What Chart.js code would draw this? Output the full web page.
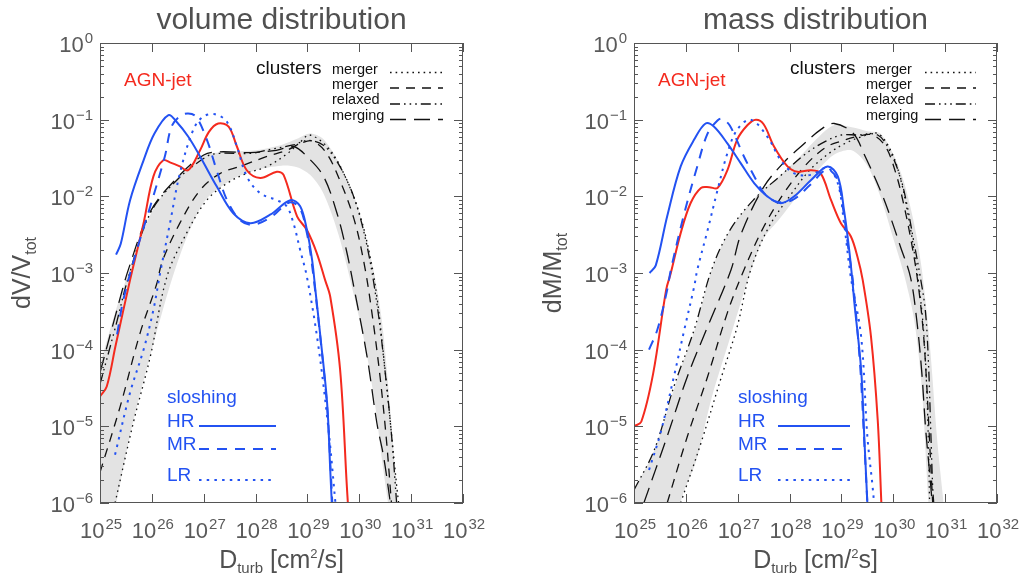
<!DOCTYPE html>
<html>
<head>
<meta charset="utf-8">
<script src="https://cdn.jsdelivr.net/npm/chart.js@4.4.0/dist/chart.umd.min.js"></script>
<style>
  html, body { margin: 0; padding: 0; background: #fff; }
  #wrap { position: relative; width: 1026px; height: 579px; }
  .panel { position: absolute; top: 0; width: 513px; height: 579px; }
</style>
</head>
<body>
<div id="wrap">
  <div class="panel" style="left:0"><canvas id="cVol" width="513" height="579"></canvas></div>
  <div class="panel" style="left:513px"><canvas id="cMass" width="513" height="579"></canvas></div>
</div>
<script>
// all curves: [log10 D_turb, log10 fraction]
const xTickExp = [25, 26, 27, 28, 29, 30, 31, 32];
const yTickExp = [-6, -5, -4, -3, -2, -1, 0];

// ── volume distribution ──────────────────────────────────────────────
const volHR = [[25.31,-2.76],[25.4,-2.62],[25.58,-2.05],[25.84,-1.53],[26.05,-1.18],[26.32,-0.94],[26.48,-1.03],[26.7,-1.22],[26.93,-1.48],[27.25,-1.87],[27.57,-2.22],[27.9,-2.35],[28.28,-2.24],[28.67,-2.05],[28.86,-2.13],[28.99,-2.44],[29.09,-2.83],[29.15,-3.2],[29.25,-3.83],[29.38,-4.7],[29.44,-5.57],[29.47,-6.0]];
const volMR = [[25.33,-3.8],[25.45,-3.35],[25.71,-2.7],[25.97,-2.13],[26.25,-1.48],[26.38,-1.09],[26.55,-0.95],[26.7,-0.92],[26.85,-0.96],[27.06,-1.26],[27.25,-1.66],[27.45,-2.05],[27.7,-2.31],[27.95,-2.37],[28.3,-2.27],[28.65,-2.08],[28.85,-2.15],[28.98,-2.45],[29.08,-2.85],[29.25,-3.85],[29.38,-4.75],[29.45,-5.6],[29.48,-6.0]];
const volLR = [[25.29,-5.37],[25.58,-4.56],[25.84,-4.0],[26.03,-3.48],[26.16,-3.0],[26.35,-2.35],[26.54,-1.7],[26.8,-1.13],[26.99,-0.96],[27.22,-0.93],[27.45,-1.03],[27.64,-1.35],[27.83,-1.74],[28.09,-1.96],[28.41,-2.05],[28.6,-2.13],[28.73,-2.35],[28.86,-2.7],[28.99,-3.05],[29.2,-3.9],[29.4,-5.0],[29.54,-6.0]];
const volAGN = [[25.0,-4.61],[25.13,-4.48],[25.3,-3.95],[25.58,-3.09],[25.84,-2.35],[26.03,-1.74],[26.22,-1.53],[26.36,-1.56],[26.54,-1.61],[26.7,-1.66],[26.93,-1.4],[27.1,-1.16],[27.28,-1.05],[27.48,-1.09],[27.64,-1.35],[27.83,-1.66],[28.09,-1.76],[28.41,-1.68],[28.54,-1.72],[28.8,-2.26],[28.99,-2.44],[29.18,-2.74],[29.34,-3.09],[29.44,-3.31],[29.63,-4.26],[29.76,-5.78],[29.78,-6.0]];
const volMergerDot = [[25.29,-6.0],[25.64,-4.96],[25.97,-4.09],[26.29,-3.05],[26.67,-2.48],[27.06,-2.05],[27.45,-1.83],[27.83,-1.7],[28.22,-1.61],[28.6,-1.45],[28.85,-1.3],[29.05,-1.2],[29.44,-1.4],[29.76,-1.79],[30.02,-2.26],[30.21,-2.79],[30.34,-3.31],[30.47,-4.09],[30.6,-4.96],[30.73,-5.83],[30.76,-6.0]];
const volMergerDash = [[25.0,-5.6],[25.39,-4.74],[25.77,-3.79],[26.09,-3.15],[26.2,-2.85],[26.54,-2.35],[26.93,-1.92],[27.32,-1.7],[27.7,-1.61],[28.22,-1.48],[28.6,-1.4],[28.9,-1.3],[29.1,-1.28],[29.35,-1.42],[29.6,-1.75],[29.9,-2.3],[30.1,-2.9],[30.25,-3.55],[30.4,-4.35],[30.52,-5.15],[30.62,-6.0]];
const volRelaxed = [[25.0,-4.45],[25.3,-3.7],[25.55,-3.05],[25.97,-2.22],[26.48,-1.79],[27.06,-1.48],[27.3,-1.44],[27.9,-1.44],[28.34,-1.38],[28.73,-1.33],[29.0,-1.27],[29.3,-1.33],[29.6,-1.58],[29.9,-2.02],[30.15,-2.65],[30.35,-3.45],[30.5,-4.3],[30.62,-5.1],[30.72,-6.0]];
const volMerging = [[25.0,-4.3],[25.3,-3.55],[25.55,-2.95],[25.97,-2.2],[26.5,-1.75],[27.0,-1.46],[27.3,-1.42],[27.9,-1.43],[28.4,-1.4],[28.73,-1.35],[28.99,-1.48],[29.31,-1.74],[29.57,-2.22],[29.75,-2.7],[29.9,-3.2],[30.15,-4.09],[30.34,-4.96],[30.47,-5.4],[30.6,-6.0]];
const volBandD  = [25.0, 25.3, 25.6, 26.0, 26.5, 27.0, 27.5, 28.0, 28.5, 28.8, 29.05, 29.3, 29.6, 29.9, 30.1, 30.3, 30.45, 30.6, 30.8];
const volBandHi = [-4.2, -3.5, -2.9, -2.2, -1.75, -1.47, -1.42, -1.4, -1.33, -1.25, -1.18, -1.25, -1.55, -2.0, -2.45, -3.05, -3.7, -4.8, -6.5];
const volBandLo = [-7, -6.05, -5.05, -4.0, -2.85, -2.08, -1.8, -1.66, -1.6, -1.62, -1.72, -1.95, -2.5, -3.3, -3.9, -4.7, -5.5, -6.2, -7];

// ── mass distribution ────────────────────────────────────────────────
const massHR = [[25.3,-3.0],[25.42,-2.9],[25.64,-2.26],[25.9,-1.61],[26.16,-1.26],[26.38,-1.05],[26.54,-1.09],[26.8,-1.31],[27.06,-1.57],[27.32,-1.83],[27.57,-2.0],[27.83,-2.09],[28.09,-2.0],[28.41,-1.79],[28.73,-1.61],[28.93,-1.74],[29.05,-2.18],[29.15,-2.7],[29.21,-3.09],[29.25,-3.39],[29.38,-4.26],[29.44,-5.13],[29.5,-6.0]];
const massMR = [[25.29,-4.0],[25.45,-3.74],[25.64,-3.22],[25.71,-2.96],[25.97,-2.22],[26.22,-1.61],[26.42,-1.18],[26.61,-1.01],[26.7,-0.99],[26.85,-1.08],[27.12,-1.48],[27.32,-1.74],[27.51,-1.96],[27.75,-2.07],[28.05,-2.05],[28.4,-1.85],[28.72,-1.65],[28.92,-1.78],[29.04,-2.2],[29.14,-2.72],[29.22,-3.1],[29.36,-4.2],[29.44,-5.2],[29.5,-6.0]];
const massLR = [[25.29,-5.57],[25.51,-5.09],[25.77,-4.35],[25.97,-3.74],[26.16,-3.18],[26.22,-2.96],[26.42,-2.44],[26.61,-1.92],[26.8,-1.44],[26.99,-1.13],[27.25,-1.0],[27.57,-1.22],[27.83,-1.53],[28.09,-1.7],[28.41,-1.72],[28.73,-1.63],[28.93,-1.83],[29.05,-2.35],[29.18,-3.05],[29.38,-3.83],[29.5,-5.13],[29.6,-5.78],[29.63,-6.0]];
const massAGN = [[25.0,-5.0],[25.14,-4.94],[25.37,-4.31],[25.62,-3.22],[25.71,-3.0],[25.9,-2.48],[26.09,-2.09],[26.29,-1.89],[26.45,-1.88],[26.61,-1.89],[26.8,-1.66],[26.99,-1.26],[27.19,-1.07],[27.35,-1.0],[27.5,-1.06],[27.7,-1.35],[27.96,-1.61],[28.15,-1.68],[28.41,-1.66],[28.6,-1.7],[28.8,-2.05],[28.99,-2.35],[29.18,-2.52],[29.31,-2.79],[29.41,-3.09],[29.57,-3.83],[29.7,-4.92],[29.77,-6.0]];
const massRelaxed = [[25.0,-5.83],[25.39,-5.31],[25.77,-4.48],[26.16,-3.74],[26.5,-2.95],[26.85,-2.44],[27.3,-2.05],[27.81,-1.74],[28.32,-1.44],[28.7,-1.28],[29.0,-1.2],[29.3,-1.2],[29.7,-1.2],[29.94,-1.42],[30.14,-1.76],[30.27,-2.13],[30.39,-2.57],[30.52,-3.05],[30.62,-3.5],[30.68,-4.2],[30.72,-5.0],[30.76,-5.8],[30.78,-6.0]];
const massMerging = [[25.19,-6.0],[25.64,-5.13],[26.03,-4.35],[26.42,-3.7],[26.87,-2.96],[27.06,-2.5],[27.5,-1.88],[27.9,-1.55],[28.22,-1.35],[28.6,-1.13],[28.86,-1.05],[29.23,-1.18],[29.43,-1.44],[29.75,-1.92],[29.94,-2.26],[30.14,-2.66],[30.33,-3.05],[30.45,-3.6],[30.55,-4.3],[30.62,-5.0],[30.7,-5.6],[30.75,-6.0]];
const massMergerDash = [[25.64,-6.0],[26.03,-5.13],[26.42,-4.35],[26.8,-3.52],[27.12,-2.96],[27.5,-2.4],[27.9,-1.95],[28.3,-1.6],[28.7,-1.36],[29.0,-1.28],[29.3,-1.22],[29.6,-1.2],[29.85,-1.35],[30.05,-1.7],[30.2,-2.1],[30.35,-2.6],[30.47,-3.1],[30.57,-3.7],[30.64,-4.4],[30.7,-5.2],[30.76,-6.0]];
const massMergerDot = [[25.9,-6.0],[26.29,-5.22],[26.67,-4.39],[26.99,-3.7],[27.25,-2.96],[27.6,-2.4],[28.0,-2.0],[28.4,-1.65],[28.8,-1.42],[29.1,-1.3],[29.4,-1.22],[29.7,-1.18],[29.95,-1.4],[30.15,-1.8],[30.3,-2.3],[30.42,-2.8],[30.52,-3.3],[30.6,-3.9],[30.65,-4.6],[30.68,-5.3],[30.7,-6.0]];
const massBandD  = [25.0, 25.4, 25.8, 25.9, 26.2, 26.5, 26.85, 27.25, 27.5, 27.8, 28.2, 28.6, 28.87, 29.2, 29.5, 29.75, 30.0, 30.2, 30.4, 30.55, 30.7, 30.85, 30.97];
const massBandHi = [-5.83, -5.3, -4.45, -4.25, -3.68, -2.95, -2.44, -2.08, -1.9, -1.74, -1.48, -1.2, -1.07, -1.1, -1.15, -1.18, -1.45, -1.8, -2.35, -2.95, -3.9, -5.2, -6.0];
const massBandLo = [-7, -7, -7, -6.0, -5.45, -4.62, -3.85, -2.98, -2.55, -2.3, -1.95, -1.62, -1.45, -1.4, -1.6, -2.0, -2.55, -3.0, -3.6, -4.5, -6.2, -7, -7];

const clusterNames = ["merger", "merger", "relaxed", "merging"];
const sloshNames = ["HR", "MR", "LR"];

// ── styles ───────────────────────────────────────────────────────────
const BLUE = "#2352f2", RED = "#f42a1e", INK = "#111", BAND = "#e3e3e3", AXIS = "#555";
const FONT = '"Liberation Sans", Arial, sans-serif';
const DASH = {
  solid: [], mr: [10, 8], lr: [2.5, 5.2],
  dot: [1.6, 4], dash: [9, 7], relaxed: [10, 4, 1.6, 4, 1.6, 4, 1.6, 4], long: [16, 8]
};
const clusterDash = [DASH.dot, DASH.dash, DASH.relaxed, DASH.long];
const sloshDash = [DASH.solid, DASH.mr, DASH.lr];

const pts = a => a.map(([lx, ly]) => ({ x: 10 ** lx, y: 10 ** ly }));
const bandPts = (d, v) => d.map((lx, i) => ({ x: 10 ** lx, y: 10 ** v[i] }));

function curve(data, color, width, dash) {
  return { data: pts(data), borderColor: color, borderWidth: width, borderDash: dash,
           pointRadius: 0, tension: 0.35, fill: false };
}

function datasets(s) {
  return [
    curve(s.hr, BLUE, 2, DASH.solid),
    curve(s.mr, BLUE, 2, DASH.mr),
    curve(s.lr, BLUE, 2, DASH.lr),
    curve(s.agn, RED, 2, DASH.solid),
    curve(s.dot, INK, 1.3, DASH.dot),
    curve(s.dash, INK, 1.3, DASH.dash),
    curve(s.relaxed, INK, 1.3, DASH.relaxed),
    curve(s.merging, INK, 1.3, DASH.long),
    { data: bandPts(s.bandD, s.bandHi), borderColor: "rgba(0,0,0,0)", borderWidth: 1,
      backgroundColor: BAND, fill: "+1", pointRadius: 0, tension: 0.3 },
    { data: bandPts(s.bandD, s.bandLo), borderColor: "rgba(0,0,0,0)", borderWidth: 1,
      fill: false, pointRadius: 0, tension: 0.3 }
  ];
}

const supExp = n => String(n).replace("-", "\u2212");

function supLabel(ctx, exp, x, yBase, align) {
  ctx.font = "22px " + FONT; const wb = ctx.measureText("10").width;
  ctx.font = "15px " + FONT; const we = ctx.measureText(exp).width;
  const w = wb + 1 + we;
  const x0 = align === "right" ? x - w : x - w / 2;
  ctx.textAlign = "left"; ctx.textBaseline = "alphabetic";
  ctx.font = "22px " + FONT; ctx.fillText("10", x0, yBase);
  ctx.font = "15px " + FONT; ctx.fillText(exp, x0 + wb + 1, yBase - 9);
}

// pieces: [text, size, dy]
function drawPieces(ctx, pieces, cx, base) {
  let w = 0;
  pieces.forEach(([t, s]) => { ctx.font = s + "px " + FONT; w += ctx.measureText(t).width; });
  let x = cx - w / 2;
  ctx.textAlign = "left"; ctx.textBaseline = "alphabetic";
  pieces.forEach(([t, s, dy]) => { ctx.font = s + "px " + FONT; ctx.fillText(t, x, base + (dy || 0)); x += ctx.measureText(t).width; });
}

function sample(ctx, x0, x1, y, color, width, dash) {
  ctx.save();
  ctx.strokeStyle = color; ctx.lineWidth = width; ctx.setLineDash(dash);
  ctx.beginPath(); ctx.moveTo(x0, y); ctx.lineTo(x1, y); ctx.stroke();
  ctx.restore();
}

const decor = {
  id: "decor",
  afterDraw(chart, args, o) {
    const { ctx, chartArea: a, scales: { x, y } } = chart;
    ctx.save();
    ctx.strokeStyle = AXIS; ctx.lineWidth = 1;
    ctx.strokeRect(a.left + 0.5, a.top + 0.5, a.right - a.left - 1, a.bottom - a.top - 1);
    ctx.beginPath();
    xTickExp.forEach(n => {
      const px = Math.round(x.getPixelForValue(10 ** n)) + 0.5;
      ctx.moveTo(px, a.bottom); ctx.lineTo(px, a.bottom - 9);
      ctx.moveTo(px, a.top); ctx.lineTo(px, a.top + 9);
    });
    yTickExp.forEach(n => {
      const py = Math.round(y.getPixelForValue(10 ** n)) + 0.5;
      ctx.moveTo(a.left, py); ctx.lineTo(a.left + 9, py);
      ctx.moveTo(a.right, py); ctx.lineTo(a.right - 9, py);
      if (n < 0) for (let k = 2; k <= 9; k++) {
        const pm = Math.round(y.getPixelForValue(k * 10 ** n)) + 0.5;
        ctx.moveTo(a.left, pm); ctx.lineTo(a.left + 4, pm);
        ctx.moveTo(a.right, pm); ctx.lineTo(a.right - 4, pm);
      }
    });
    ctx.stroke();

    ctx.fillStyle = "#5a5a5a";
    xTickExp.forEach(n => supLabel(ctx, supExp(n), x.getPixelForValue(10 ** n) + 1, a.bottom + 35, "center"));
    yTickExp.forEach(n => supLabel(ctx, supExp(n), a.left - 7, y.getPixelForValue(10 ** n) + 9, "right"));

    const cx = (a.left + a.right) / 2;
    ctx.fillStyle = "#505050";
    drawPieces(ctx, [[o.title, 30]], cx, 29);
    drawPieces(ctx, o.xTitle, cx, 568);
    ctx.save();
    ctx.translate(o.yTitleX, 273); ctx.rotate(-Math.PI / 2);
    drawPieces(ctx, o.yTitle, 0, 0);
    ctx.restore();

    // legends
    const L = o.leg;
    ctx.textAlign = "left"; ctx.textBaseline = "alphabetic";
    ctx.fillStyle = RED; ctx.font = "19px " + FONT; ctx.fillText("AGN-jet", L.agnX, 86);
    ctx.fillStyle = INK; ctx.font = "19px " + FONT; ctx.fillText("clusters", L.clX, 74);
    ctx.font = "14.5px " + FONT;
    const cy = [74, 89, 104, 120], sy = [72.5, 88, 104, 119.5];
    clusterNames.forEach((t, i) => {
      ctx.fillStyle = INK; ctx.fillText(t, L.mX, cy[i]);
      sample(ctx, L.sX0, L.sX1, sy[i], INK, 1.5, clusterDash[i]);
    });
    ctx.fillStyle = BLUE; ctx.font = "19px " + FONT; ctx.fillText("sloshing", L.slX, 403);
    const ry = [427, 450, 481], rs = [426, 449, 480];
    sloshNames.forEach((t, i) => {
      ctx.fillStyle = BLUE; ctx.font = "19px " + FONT; ctx.fillText(t, L.slX, ry[i]);
      sample(ctx, L.rX0, L.rX1, rs[i], BLUE, 2, sloshDash[i]);
    });
    ctx.restore();
  }
};

function makeChart(id, sets, pad, deco) {
  return new Chart(document.getElementById(id), {
    type: "line",
    data: { datasets: datasets(sets) },
    options: {
      responsive: false, animation: false, events: [],
      layout: { padding: pad },
      scales: {
        x: { type: "logarithmic", min: 1e25, max: 1e32, display: false },
        y: { type: "logarithmic", min: 1e-6, max: 1, display: false }
      },
      plugins: { legend: { display: false }, tooltip: { enabled: false }, decor: deco }
    },
    plugins: [decor]
  });
}

makeChart("cVol", {
  hr: volHR, mr: volMR, lr: volLR, agn: volAGN,
  dot: volMergerDot, dash: volMergerDash, relaxed: volRelaxed, merging: volMerging,
  bandD: volBandD, bandHi: volBandHi, bandLo: volBandLo
}, { left: 100, right: 50, top: 43, bottom: 76 }, {
  title: "volume distribution",
  xTitle: [["D", 25], ["turb", 15, 5], [" [cm", 25], ["2", 13, -10], ["/s]", 25]],
  yTitle: [["dV/V", 25], ["tot", 16, 6]], yTitleX: 30,
  leg: { agnX: 124, clX: 256, mX: 332, sX0: 390, sX1: 443, slX: 167, rX0: 199, rX1: 276 }
});

makeChart("cMass", {
  hr: massHR, mr: massMR, lr: massLR, agn: massAGN,
  dot: massMergerDot, dash: massMergerDash, relaxed: massRelaxed, merging: massMerging,
  bandD: massBandD, bandHi: massBandHi, bandLo: massBandLo
}, { left: 121, right: 29, top: 43, bottom: 76 }, {
  title: "mass distribution",
  xTitle: [["D", 25], ["turb", 15, 5], [" [cm/", 25], ["2", 13, -10], ["s]", 25]],
  yTitle: [["dM/M", 25], ["tot", 16, 6]], yTitleX: 48,
  leg: { agnX: 145, clX: 277, mX: 353, sX0: 412, sX1: 463, slX: 225, rX0: 265, rX1: 337 }
});
</script>
</body>
</html>
